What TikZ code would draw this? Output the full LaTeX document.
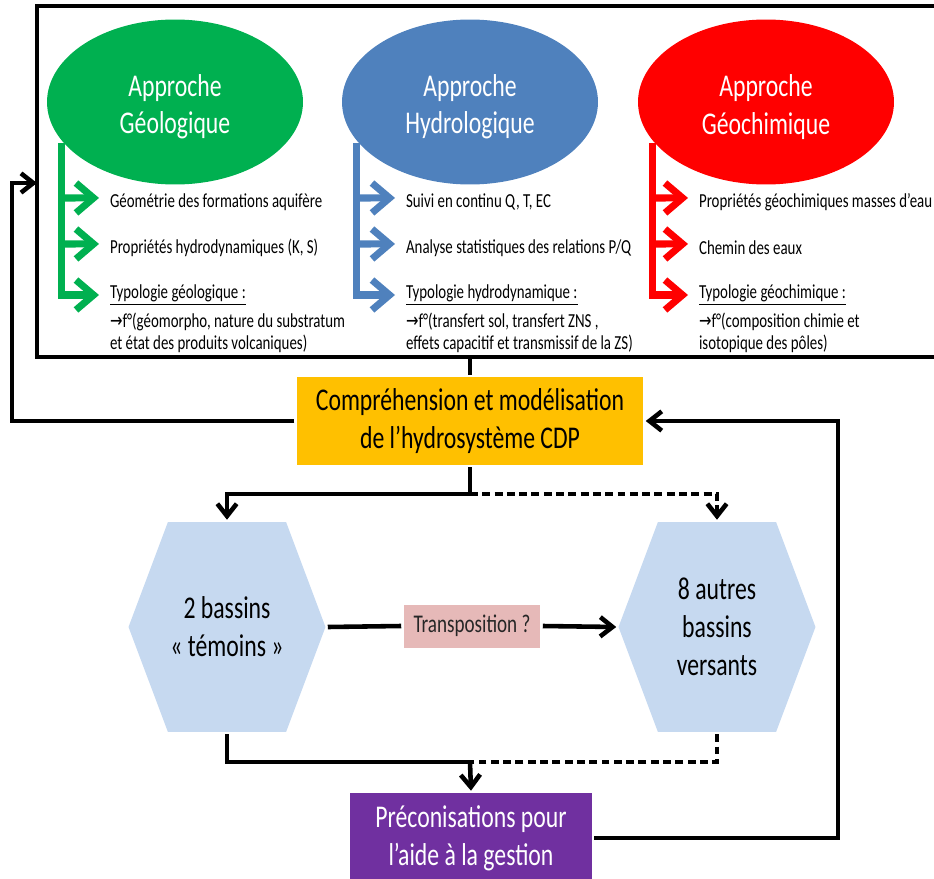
\documentclass[tikz,border=0pt]{standalone}
\usepackage{fontspec}
\setmainfont[FakeStretch=0.75]{Carlito}
\newfontfamily\arrowfont[FakeStretch=0.75]{DejaVu Sans}
\usetikzlibrary{arrows.meta,shapes.geometric,calc}

\definecolor{geogreen}{HTML}{00B050}
\definecolor{hydroblue}{HTML}{4F81BD}
\definecolor{chimred}{HTML}{FF0000}
\definecolor{cdporange}{HTML}{FFC000}
\definecolor{bassinblue}{HTML}{C6D9F0}
\definecolor{transpink}{HTML}{E6B9B8}
\definecolor{precopurple}{HTML}{7030A0}

\newcommand{\smalltxt}{\fontsize{11.3}{12.5}\selectfont}
\newcommand{\bigtxt}{\fontsize{18}{21.5}\selectfont}
\newcommand{\midtxt}{\fontsize{14.5}{16}\selectfont}
\newcommand{\fto}{{\arrowfont →}f°}
\newcommand{\toppad}{\rule{0pt}{18pt}}

\begin{document}
\begin{tikzpicture}[x=0.02cm,y=-0.02cm,>={Straight Barb[length=7pt,width=11pt]},line width=2.6pt]
  \tikzstyle{approach}=[ellipse, minimum width=5.12cm, minimum height=3.3cm, inner sep=0pt,
    text=white, align=center, font=\bigtxt]
  \tikzstyle{item}=[anchor=west, inner xsep=5pt, inner ysep=1pt, font=\smalltxt]
  \tikzstyle{detail}=[anchor=north west, inner xsep=5pt, inner ysep=1pt, align=left, font=\smalltxt]
  \tikzstyle{branch}=[line width=4pt, -{Straight Barb[length=10pt,width=17pt]}]
  \tikzstyle{flow}=[line width=2.6pt]
  \tikzstyle{dashline}=[dash pattern=on 4.5pt off 2.5pt]
  \tikzstyle{stepbox}=[minimum width=6.94cm, minimum height=1.76cm, inner sep=0pt,
    align=center, font=\bigtxt]
  \tikzstyle{transbox}=[fill=transpink, minimum width=2.74cm, minimum height=0.86cm, inner sep=0pt,
    font=\midtxt, text=black!85]
  \tikzstyle{hexbox}=[minimum width=3.94cm, minimum height=4.2cm, inner sep=0pt, align=center,
    font=\bigtxt, path picture={\fill[bassinblue] (path picture bounding box.west)
      -- ($(path picture bounding box.north west)!0.2!(path picture bounding box.north east)$)
      -- ($(path picture bounding box.north west)!0.8!(path picture bounding box.north east)$)
      -- (path picture bounding box.east)
      -- ($(path picture bounding box.south west)!0.8!(path picture bounding box.south east)$)
      -- ($(path picture bounding box.south west)!0.2!(path picture bounding box.south east)$)
      -- cycle;}]

  \useasboundingbox (0,0) rectangle (934,879);

  \draw[flow] (934,6) -- (37,6) -- (37,357) -- (934,357);
  \coordinate (frameL) at (37,183);
  \coordinate (frameB) at (470,357);

  \node[approach, fill=geogreen] (geo) at (175,102) {\toppad Approche\\Géologique};
  \node[approach, fill=hydroblue] (hydro) at (470,102) {\toppad Approche\\Hydrologique};
  \node[approach, fill=chimred] (chim) at (766,102) {\toppad Approche\\Géochimique};

  \node[item] (g1) at (99,202) {Géométrie des formations aquifère};
  \node[item] (g2) at (99,248) {Propriétés hydrodynamiques (K, S)};
  \node[item] (g3) at (99,295) {\underline{Typologie géologique :}};
  \node[detail] (g4) at (g3.south west) {\fto(géomorpho, nature du substratum\\et état des produits volcaniques)};

  \node[item] (h1) at (395,202) {Suivi en continu Q, T, EC};
  \node[item] (h2) at (395,248) {Analyse statistiques des relations P/Q};
  \node[item] (h3) at (395,295) {\underline{Typologie hydrodynamique :}};
  \node[detail] (h4) at (h3.south west) {\fto(transfert sol, transfert ZNS ,\\effets capacitif et transmissif de la ZS)};

  \node[item] (c1) at (688,202) {Propriétés géochimiques masses d’eau};
  \node[item] (c2) at (688,248) {Chemin des eaux};
  \node[item] (c3) at (688,295) {\underline{Typologie géochimique :}};
  \node[detail] (c4) at (c3.south west) {\fto(composition chimie et\\isotopique des pôles)};

  \draw[branch, draw=geogreen] (geo.200) |- (g3.west);
  \draw[branch, draw=geogreen] (geo.200 |- g1.west) ++(0,-4) -- ([yshift=2.3pt]g1.west);
  \draw[branch, draw=geogreen] (geo.200 |- g2.west) ++(0,-4) -- ([yshift=2.3pt]g2.west);
  \draw[branch, draw=hydroblue] (hydro.200) |- (h3.west);
  \draw[branch, draw=hydroblue] (hydro.200 |- h1.west) ++(0,-4) -- ([yshift=2.3pt]h1.west);
  \draw[branch, draw=hydroblue] (hydro.200 |- h2.west) ++(0,-4) -- ([yshift=2.3pt]h2.west);
  \draw[branch, draw=chimred] (chim.200) |- (c3.west);
  \draw[branch, draw=chimred] (chim.200 |- c1.west) ++(0,-4) -- ([yshift=2.3pt]c1.west);
  \draw[branch, draw=chimred] (chim.200 |- c2.west) ++(0,-4) -- ([yshift=2.3pt]c2.west);

  \node[stepbox, fill=cdporange] (cdp) at (470,421) {Compréhension et modélisation\\de l’hydrosystème CDP};
  \node[hexbox] (temoin) at (227,627) {2 bassins\\« témoins »};
  \node[hexbox] (autres) at (717,627) {8 autres\\bassins\\versants};
  \node[transbox] (transpo) at (472,626) {Transposition ?};
  \node[stepbox, fill=precopurple, text=white, minimum width=4.84cm, minimum height=1.8cm] (preco)
    at (471,838) {Préconisations pour\\l’aide à la gestion};

  \coordinate (loopL) at (12,183);
  \coordinate (loopR) at (838,421);
  \coordinate (split) at (470,494);
  \coordinate (merge) at (470,762);

  \draw[flow] (cdp.north) -- (frameB);
  \draw[flow,->] (cdp.west) -| (loopL) -- (frameL);
  \draw[flow] (cdp.south) -- (split);
  \draw[flow,->] (split) -| (temoin.north);
  \draw[flow,dashline,->] (split) -| (autres.north);
  \draw[flow] (temoin.east) -- (transpo.west);
  \draw[flow,->] (transpo.east) -- (autres.west);
  \draw[flow] (temoin.south) |- (merge);
  \draw[flow,dashline] (autres.south) |- (merge);
  \draw[flow,->] (merge) -- (preco.north);
  \draw[flow,->] (preco.east) -| (loopR) -- (cdp.east);
\end{tikzpicture}
\end{document}
